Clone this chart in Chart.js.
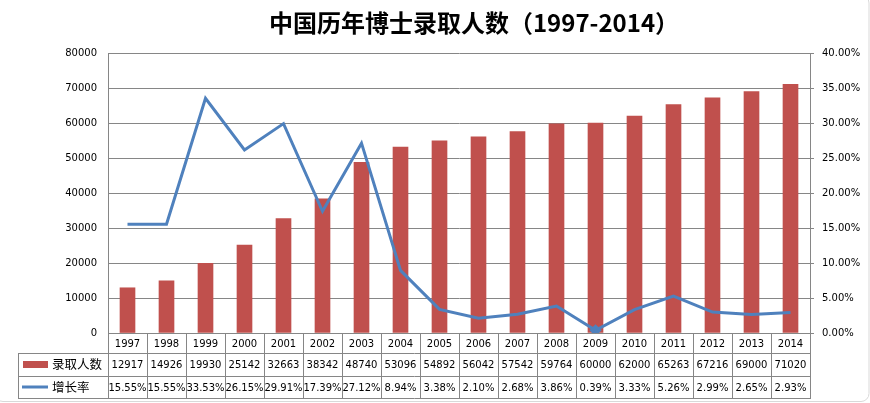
<!DOCTYPE html>
<html>
<head>
<meta charset="utf-8">
<script src="https://cdn.jsdelivr.net/npm/chart.js@4"></script>
<style>html,body{margin:0;padding:0;background:#fff}</style>
</head>
<body>
<canvas id="chart" width="870" height="403"></canvas>
<script>
// 数据：年份、录取人数、增长率(%)
const years = ["1997", "1998", "1999", "2000", "2001", "2002", "2003", "2004", "2005",
  "2006", "2007", "2008", "2009", "2010", "2011", "2012", "2013", "2014"];
const enrolled = [12917, 14926, 19930, 25142, 32663, 38342, 48740, 53096, 54892,
  56042, 57542, 59764, 60000, 62000, 65263, 67216, 69000, 71020];
const growth = [15.55, 15.55, 33.53, 26.15, 29.91, 17.39, 27.12, 8.94, 3.38,
  2.10, 2.68, 3.86, 0.39, 3.33, 5.26, 2.99, 2.65, 2.93];
const seriesNames = ["录取人数", "增长率"];
const titleText = "中国历年博士录取人数（1997-2014）";

const BAR = "#C0504D";
const LINE = "#4F81BD";
const GRID = "#868686";
const NUM_FONT = "DejaVu Sans";
const CJK_FONT = "'Noto Sans CJK SC'";

// 标题（手动定位）
const titlePlugin = {
  id: "titleText",
  afterDraw(chart) {
    const ctx = chart.ctx;
    ctx.save();
    ctx.fillStyle = "#000";
    ctx.font = "bold 24px " + CJK_FONT;
    ctx.textAlign = "center";
    ctx.textBaseline = "middle";
    ctx.fillText(titleText, 474, 23);
    ctx.restore();
  }
};

// 图表下方的数据表
const dataTable = {
  id: "dataTable",
  afterDraw(chart) {
    const ctx = chart.ctx;
    const x = chart.scales.x;
    const ca = chart.chartArea;
    const half = (x.getPixelForValue(1) - x.getPixelForValue(0)) / 2;
    const r0 = Math.round(ca.bottom), r1 = r0 + 20, r2 = r0 + 43, r3 = r0 + 65;
    const left = 18;

    ctx.save();
    ctx.strokeStyle = GRID;
    ctx.lineWidth = 1;
    ctx.beginPath();
    // 竖线
    for (let i = 0; i <= years.length; i++) {
      const px = Math.round(x.getPixelForValue(i) - half) + 0.5;
      ctx.moveTo(px, r0);
      ctx.lineTo(px, r3);
    }
    ctx.moveTo(left + 0.5, r1);
    ctx.lineTo(left + 0.5, r3);
    // 横线
    [r1, r2, r3].forEach(y => {
      ctx.moveTo(left, y + 0.5);
      ctx.lineTo(Math.round(ca.right) + 1, y + 0.5);
    });
    ctx.stroke();

    ctx.fillStyle = "#000";
    ctx.textAlign = "center";
    ctx.textBaseline = "middle";
    ctx.font = "10px " + NUM_FONT;
    years.forEach((yr, i) => {
      const cx = x.getPixelForValue(i);
      ctx.fillText(yr, cx, (r0 + r1) / 2 + 1);
      ctx.fillText(String(enrolled[i]), cx, (r1 + r2) / 2 + 1);
      ctx.fillText(growth[i].toFixed(2) + "%", cx, (r2 + r3) / 2 + 1);
    });

    // 图例
    ctx.fillStyle = BAR;
    ctx.fillRect(23, r1 + 8, 25, 7);
    ctx.strokeStyle = LINE;
    ctx.lineWidth = 3;
    ctx.beginPath();
    ctx.moveTo(22, (r2 + r3) / 2);
    ctx.lineTo(48, (r2 + r3) / 2);
    ctx.stroke();
    ctx.fillStyle = "#000";
    ctx.textAlign = "left";
    ctx.font = "12.5px " + CJK_FONT;
    ctx.fillText(seriesNames[0], 52, (r1 + r2) / 2);
    ctx.fillText(seriesNames[1], 52, (r2 + r3) / 2);
    ctx.restore();
  }
};

// 外框
const frame = {
  id: "frame",
  beforeDraw(chart) {
    const ctx = chart.ctx;
    ctx.save();
    ctx.strokeStyle = "#d9d9d9";
    ctx.lineWidth = 1;
    ctx.beginPath();
    ctx.roundRect(-5, -5, 874, 406.5, 8);
    ctx.stroke();
    ctx.restore();
  }
};

new Chart(document.getElementById("chart"), {
  data: {
    labels: years,
    datasets: [
      {
        type: "line",
        label: seriesNames[1],
        data: growth,
        yAxisID: "y1",
        borderColor: LINE,
        backgroundColor: LINE,
        borderWidth: 3,
        tension: 0,
        pointStyle: "rectRot",
        pointRadius: growth.map((_, i) => i === 12 ? 4 : 0),
        order: 0
      },
      {
        type: "bar",
        label: seriesNames[0],
        data: enrolled,
        yAxisID: "y",
        backgroundColor: BAR,
        barThickness: 15,
        order: 1
      }
    ]
  },
  options: {
    responsive: false,
    animation: false,
    layout: { padding: { left: 0, right: 0, top: 53, bottom: 5 } },
    plugins: {
      legend: { display: false },
      tooltip: { enabled: false },
      title: { display: false }
    },
    scales: {
      x: {
        ticks: { display: false },
        grid: { display: false },
        border: { display: false },
        afterFit(s) { s.height = 65; }
      },
      y: {
        position: "left",
        min: 0,
        max: 80000,
        ticks: {
          stepSize: 10000, padding: 11, color: "#000",
          font: { family: NUM_FONT, size: 10 },
          callback: v => String(v)
        },
        grid: { color: GRID, drawTicks: false },
        border: { color: GRID },
        afterFit(s) { s.width = 108; }
      },
      y1: {
        position: "right",
        min: 0,
        max: 40,
        ticks: {
          stepSize: 5, padding: 8, color: "#000",
          font: { family: NUM_FONT, size: 10 },
          callback: v => v.toFixed(2) + "%"
        },
        grid: { drawOnChartArea: false, color: GRID, tickLength: 4 },
        border: { color: GRID },
        afterFit(s) { s.width = 60; }
      }
    }
  },
  plugins: [frame, dataTable, titlePlugin]
});
</script>
</body>
</html>
